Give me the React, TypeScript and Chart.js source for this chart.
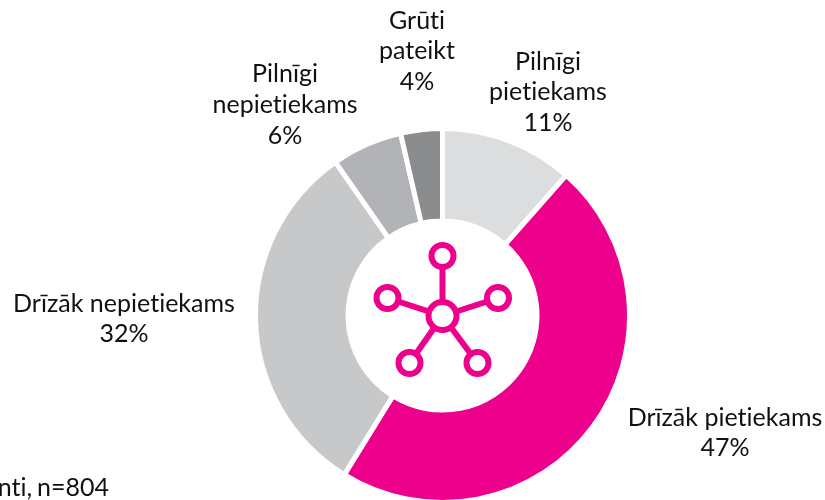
import React, { useEffect, useRef } from "react";
import { Chart, registerables } from "chart.js";

Chart.register(...registerables);

const categories = ["Pilnīgi pietiekams", "Drīzāk pietiekams", "Drīzāk nepietiekams", "Pilnīgi nepietiekams", "Grūti pateikt"];
const shareValues = [11.5, 47.3, 31.5, 6.1, 3.6];
const sliceColors = ["#DCDDDE", "#EC008C", "#C7C8CA", "#B1B3B6", "#8A8C8E"];
const PINK = "#EC008C";
const FONT = '25px Lato';

const labelBlocks = [
  { lines: ["Pilnīgi", "pietiekams", "11%"], x: 548, y: [62, 92, 123] },
  { lines: ["Drīzāk pietiekams", "47%"], x: 725, y: [418, 448] },
  { lines: ["Drīzāk nepietiekams", "32%"], x: 124, y: [304, 334] },
  { lines: ["Pilnīgi", "nepietiekams", "6%"], x: 285, y: [74, 105, 136] },
  { lines: ["Grūti", "pateikt", "4%"], x: 417, y: [21, 51, 82] },
];
const footnote = "nti, n=804";

const iconNodes = [
  [0, -60],
  [55.5, -18],
  [-55, -18],
  [-33, 47],
  [35, 47],
];

const overlay = {
  id: "overlay",
  afterDraw(chart: any) {
    const { ctx } = chart;
    const arc = chart.getDatasetMeta(0).data[0];
    const cx = arc.x;
    const cy = arc.y + 0.5;
    ctx.save();
    // network icon
    ctx.strokeStyle = PINK;
    ctx.lineWidth = 6;
    iconNodes.forEach(([dx, dy]) => {
      ctx.beginPath();
      ctx.moveTo(cx, cy);
      ctx.lineTo(cx + dx, cy + dy);
      ctx.stroke();
    });
    ctx.fillStyle = "#fff";
    iconNodes.forEach(([dx, dy]) => {
      ctx.beginPath();
      ctx.arc(cx + dx, cy + dy, 11, 0, Math.PI * 2);
      ctx.fill();
      ctx.stroke();
    });
    ctx.beginPath();
    ctx.arc(cx, cy, 14, 0, Math.PI * 2);
    ctx.fill();
    ctx.stroke();
    // labels
    ctx.fillStyle = "#111111";
    ctx.font = FONT;
    ctx.letterSpacing = "0.01px";
    ctx.textAlign = "center";
    ctx.textBaseline = "middle";
    labelBlocks.forEach((b) => {
      b.lines.forEach((line, i) => ctx.fillText(line, b.x, b.y[i]));
    });
    ctx.textAlign = "right";
    ctx.wordSpacing = "-1.5px";
    ctx.fillText(footnote, 109, 488);
    ctx.restore();
  },
};

export default function App() {
  const ref = useRef<HTMLCanvasElement>(null);
  useEffect(() => {
    const chart = new Chart(ref.current as HTMLCanvasElement, {
      type: "doughnut",
      data: {
        labels: categories,
        datasets: [
          {
            data: shareValues,
            backgroundColor: sliceColors,
            borderColor: "#ffffff",
            borderWidth: 5,
          },
        ],
      },
      options: {
        responsive: false,
        animation: false,
        cutout: 94.5,
        layout: { padding: { left: 253, right: 193, top: 126, bottom: 0 } },
        plugins: { legend: { display: false }, tooltip: { enabled: false } },
      },
      plugins: [overlay],
    } as any);
    return () => chart.destroy();
  }, []);
  return (
    <div style={{ position: "fixed", left: 0, top: 0, width: 825, height: 500, overflow: "hidden", background: "#fff" }}>
      <canvas ref={ref} width={825} height={505} style={{ display: "block" }} />
    </div>
  );
}
